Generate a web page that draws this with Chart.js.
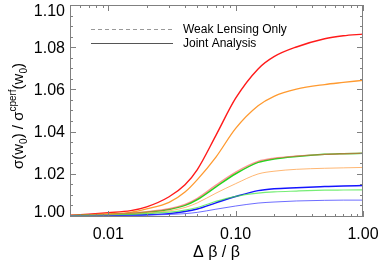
<!DOCTYPE html>
<html>
<head>
<meta charset="utf-8">
<script src="https://cdn.jsdelivr.net/npm/chart.js@4/dist/chart.umd.min.js"></script>
<style>
  body { margin: 0; background: #fff; }
  canvas { display: block; }
</style>
</head>
<body>
<canvas id="myChart" width="382" height="262"></canvas>
<script>
// valeurs de Δβ/β (axe x, log)
const deltaBeta = [0.005, 0.007, 0.01, 0.015, 0.02, 0.03, 0.04, 0.05, 0.07, 0.1, 0.15, 0.2, 0.3, 0.5, 0.7, 1.0];

// Joint Analysis (traits pleins)
const redJoint    = [1.0003, 1.0008, 1.0015, 1.0025, 1.0043, 1.0091, 1.0148, 1.0220, 1.0382, 1.0558, 1.0697, 1.0755, 1.0801, 1.0840, 1.0854, 1.0862];
const orangeJoint = [1.0002, 1.0005, 1.0010, 1.0017, 1.0033, 1.0064, 1.0113, 1.0172, 1.0279, 1.0415, 1.0522, 1.0567, 1.0601, 1.0623, 1.0633, 1.0643];
const greenJoint  = [1.0001, 1.0003, 1.0006, 1.0012, 1.0018, 1.0031, 1.0050, 1.0078, 1.0138, 1.0200, 1.0254, 1.0270, 1.0282, 1.0292, 1.0295, 1.0297];
const blueJoint   = [1.0000, 1.0001, 1.0002, 1.0004, 1.0006, 1.0011, 1.0021, 1.0033, 1.0062, 1.0092, 1.0120, 1.0129, 1.0134, 1.0139, 1.0142, 1.0144];

// Weak Lensing Only (traits clairs)
const redWL    = [1.0002, 1.0004, 1.0007, 1.0013, 1.0020, 1.0034, 1.0055, 1.0084, 1.0146, 1.0208, 1.0259, 1.0274, 1.0284, 1.0292, 1.0295, 1.0297];
const orangeWL = [1.0001, 1.0002, 1.0005, 1.0009, 1.0014, 1.0024, 1.0040, 1.0062, 1.0108, 1.0153, 1.0199, 1.0212, 1.0221, 1.0226, 1.0228, 1.0230];
const greenWL  = [1.0001, 1.0002, 1.0004, 1.0007, 1.0011, 1.0018, 1.0028, 1.0040, 1.0069, 1.0093, 1.0108, 1.0114, 1.0118, 1.0122, 1.0123, 1.0124];
const blueWL   = [1.0000, 1.0000, 1.0001, 1.0002, 1.0004, 1.0007, 1.0011, 1.0017, 1.0032, 1.0047, 1.0061, 1.0066, 1.0071, 1.0074, 1.0075, 1.0075];

// graduations
const xMajorTicks = [0.01, 0.1, 1.0];
const yMajorTicks = [1.00, 1.02, 1.04, 1.06, 1.08, 1.10];

const legendLabels = ["Weak Lensing Only", "Joint Analysis"];

const FONT = "'Liberation Sans', Arial, Helvetica, sans-serif";
const AXIS_COLOR = "#808080";

function points(values) {
    return deltaBeta.map((x, i) => ({ x: x, y: values[i] }));
}

function serie(values, color, width) {
    return {
        data: points(values),
        borderColor: color,
        borderWidth: width,
        pointRadius: 0,
        fill: false,
        cubicInterpolationMode: 'monotone'
    };
}

// pas de marge automatique autour des axes
function sansMarge(scale) {
    scale.paddingTop = 0;
    scale.paddingBottom = 0;
    scale.paddingLeft = 0;
    scale.paddingRight = 0;
}

// cadre + petites graduations vers l'intérieur (style IDL)
const cadrePlugin = {
    id: 'cadre',
    afterDraw(chart) {
        const ctx = chart.ctx;
        const a = chart.chartArea;
        const xs = chart.scales.x;
        const ys = chart.scales.y;
        ctx.save();
        ctx.strokeStyle = AXIS_COLOR;
        ctx.lineWidth = 1;
        ctx.strokeRect(a.left + 0.5, a.top + 0.5, a.right - a.left - 1, a.bottom - a.top - 1);

        ctx.beginPath();
        // x : majeures + mineures
        const xMinor = [];
        [0.001, 0.01, 0.1].forEach(d => {
            for (let k = 2; k <= 9; k++) {
                const v = k * d;
                if (v >= 0.005 && v < 1) xMinor.push(v);
            }
        });
        xMajorTicks.forEach(v => {
            const px = Math.round(xs.getPixelForValue(v)) + 0.5;
            ctx.moveTo(px, a.bottom); ctx.lineTo(px, a.bottom - 6);
            ctx.moveTo(px, a.top); ctx.lineTo(px, a.top + 6);
        });
        xMinor.forEach(v => {
            const px = Math.round(xs.getPixelForValue(v)) + 0.5;
            ctx.moveTo(px, a.bottom); ctx.lineTo(px, a.bottom - 3);
            ctx.moveTo(px, a.top); ctx.lineTo(px, a.top + 3);
        });
        // y : majeures tous les 0.02, mineures tous les 0.005
        for (let i = 0; i <= 20; i++) {
            const v = 1.0 + i * 0.005;
            const py = Math.round(ys.getPixelForValue(v)) + 0.5;
            const len = (i % 4 === 0) ? 6 : 3;
            ctx.moveTo(a.left, py); ctx.lineTo(a.left + len, py);
            ctx.moveTo(a.right, py); ctx.lineTo(a.right - len, py);
        }
        ctx.stroke();

        // étiquettes de l'axe y (les extrêmes restent dans le cadre)
        ctx.fillStyle = "#000";
        ctx.font = "16px " + FONT;
        ctx.textAlign = "right";
        ctx.textBaseline = "middle";
        yMajorTicks.forEach(v => {
            let py = ys.getPixelForValue(v);
            py = Math.min(Math.max(py, a.top + 6), a.bottom - 5);
            ctx.fillText(v.toFixed(2), a.left - 5, py + 1);
        });

        // légende
        const lx = a.left + 21;
        const ly1 = a.top + 24;
        const ly2 = a.top + 38;
        ctx.strokeStyle = "#999999";
        ctx.setLineDash([4, 3]);
        ctx.beginPath();
        ctx.moveTo(lx, ly1 + 0.5); ctx.lineTo(lx + 82, ly1 + 0.5);
        ctx.stroke();
        ctx.setLineDash([]);
        ctx.strokeStyle = "#555555";
        ctx.beginPath();
        ctx.moveTo(lx, ly2 + 0.5); ctx.lineTo(lx + 82, ly2 + 0.5);
        ctx.stroke();
        ctx.font = "12px " + FONT;
        ctx.textAlign = "left";
        ctx.fillText(legendLabels[0], lx + 92, ly1 + 1);
        ctx.fillText(legendLabels[1], lx + 92, ly2 + 1);

        // titre de l'axe y avec indices / exposants
        const parts = [
            { t: "σ(w", size: 15, dy: 0 },
            { t: "0", size: 10, dy: 4 },
            { t: ") / σ", size: 15, dy: 0 },
            { t: "cperf", size: 10, dy: -7 },
            { t: "(w", size: 15, dy: 0 },
            { t: "0", size: 10, dy: 4 },
            { t: ")", size: 15, dy: 0 }
        ];
        let total = 0;
        parts.forEach(p => {
            ctx.font = p.size + "px " + FONT;
            p.w = ctx.measureText(p.t).width;
            total += p.w;
        });
        ctx.translate(18, (a.top + a.bottom) / 2 + 5);
        ctx.rotate(-Math.PI / 2);
        ctx.textBaseline = "alphabetic";
        let cx = -total / 2;
        parts.forEach(p => {
            ctx.font = p.size + "px " + FONT;
            ctx.fillText(p.t, cx, 5 + p.dy);
            cx += p.w;
        });
        ctx.restore();
    }
};

const ctx = document.getElementById('myChart').getContext('2d');
const myChart = new Chart(ctx, {
    type: 'line',
    data: {
        datasets: [
            serie(blueWL, 'rgba(60,60,255,0.75)', 1),
            serie(greenWL, 'rgba(60,230,60,0.7)', 1.2),
            serie(orangeWL, 'rgba(255,165,80,0.8)', 1),
            serie(redWL, 'rgba(255,80,80,0.6)', 1.4),
            serie(blueJoint, '#1515ff', 1.5),
            serie(greenJoint, '#1ed81e', 1.5),
            serie(orangeJoint, '#ff9a30', 1.3),
            serie(redJoint, '#ff1a1a', 1.4)
        ]
    },
    options: {
        responsive: false,
        animation: false,
        devicePixelRatio: 1,
        layout: { padding: { top: 5, right: 19, left: 0, bottom: 0 } },
        plugins: {
            legend: { display: false },
            tooltip: { enabled: false }
        },
        scales: {
            x: {
                type: 'logarithmic',
                min: 0.005,
                max: 1.0,
                grid: { display: false, drawTicks: false },
                border: { display: false },
                afterBuildTicks: scale => {
                    scale.ticks = xMajorTicks.map(v => ({ value: v }));
                },
                afterFit: scale => { scale.height = 45; sansMarge(scale); },
                ticks: {
                    autoSkip: false,
                    maxRotation: 0,
                    padding: 8,
                    color: '#000',
                    font: { family: FONT, size: 16 },
                    callback: v => Number(v).toFixed(2)
                },
                title: {
                    display: true,
                    text: 'Δ β / β',
                    color: '#000',
                    font: { family: FONT, size: 16 },
                    padding: { top: 2, bottom: 0 }
                }
            },
            y: {
                type: 'linear',
                min: 0.9995,
                max: 1.10,
                grid: { display: false, drawTicks: false },
                border: { display: false },
                afterBuildTicks: scale => {
                    scale.ticks = yMajorTicks.map(v => ({ value: v }));
                },
                afterFit: scale => { scale.width = 70; sansMarge(scale); },
                ticks: { display: false }
            }
        }
    },
    plugins: [cadrePlugin]
});
</script>
</body>
</html>
